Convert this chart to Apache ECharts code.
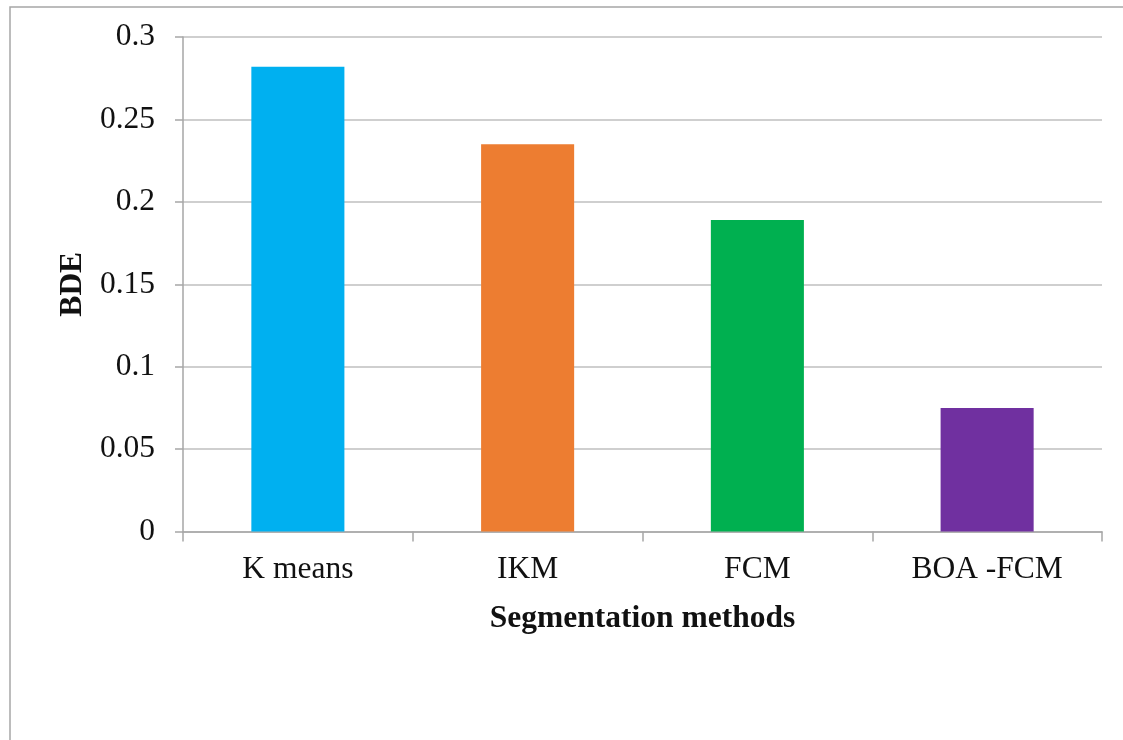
<!DOCTYPE html>
<html>
<head>
<meta charset="utf-8">
<style>
  html, body { margin: 0; padding: 0; background: #ffffff; }
  #chart { width: 1123px; height: 740px; }
</style>
<script src="https://cdn.jsdelivr.net/npm/echarts@6/dist/echarts.min.js"></script>
</head>
<body>
<div id="chart"></div>
<script>
// Boundary displacement error for each segmentation method
const methods = ['K means', 'IKM', 'FCM', 'BOA -FCM'];
const bdeValues = [0.282, 0.235, 0.189, 0.075];
const barColors = ['#00B0F0', '#ED7D31', '#00B050', '#7030A0'];
const yTicks = [0, 0.05, 0.1, 0.15, 0.2, 0.25, 0.3];

const chart = echarts.init(document.getElementById('chart'));
const serif = '"Liberation Serif", "Times New Roman", serif';
const fs = 31.5;

chart.setOption({
  animation: false,
  backgroundColor: '#ffffff',
  graphic: [{
    type: 'polyline',
    shape: { points: [[10, 740], [10, 7], [1123, 7]] },
    style: { stroke: '#a6a6a6', lineWidth: 1.5, fill: null }
  }],
  grid: { left: 183, right: 21, top: 37, bottom: 208.5 },
  xAxis: {
    type: 'category',
    data: methods,
    name: 'Segmentation methods',
    nameLocation: 'middle',
    nameGap: 71,
    nameTextStyle: { fontFamily: serif, fontSize: fs, fontWeight: 'bold', color: '#111' },
    axisLine: { lineStyle: { color: '#a6a6a6', width: 1.5 } },
    axisTick: { show: true, length: 10, lineStyle: { color: '#a6a6a6', width: 1.5 } },
    axisLabel: { fontFamily: serif, fontSize: fs, color: '#111', margin: 22 }
  },
  yAxis: {
    type: 'value',
    min: yTicks[0],
    max: yTicks[yTicks.length - 1],
    interval: 0.05,
    name: 'BDE',
    nameLocation: 'middle',
    nameRotate: 90,
    nameGap: 94,
    nameTextStyle: { fontFamily: serif, fontSize: fs, fontWeight: 'bold', color: '#111' },
    axisLine: { show: true, lineStyle: { color: '#a6a6a6', width: 1.5 } },
    axisTick: { show: true, length: 8, lineStyle: { color: '#a6a6a6', width: 1.5 } },
    splitLine: { lineStyle: { color: '#bfbfbf', width: 1.5 } },
    axisLabel: {
      fontFamily: serif, fontSize: fs, color: '#111', margin: 28,
      formatter: v => String(Math.round(v * 100) / 100)
    }
  },
  series: [{
    type: 'bar',
    barWidth: '40.5%',
    data: bdeValues.map((v, i) => ({ value: v, itemStyle: { color: barColors[i] } }))
  }]
});
</script>
</body>
</html>
